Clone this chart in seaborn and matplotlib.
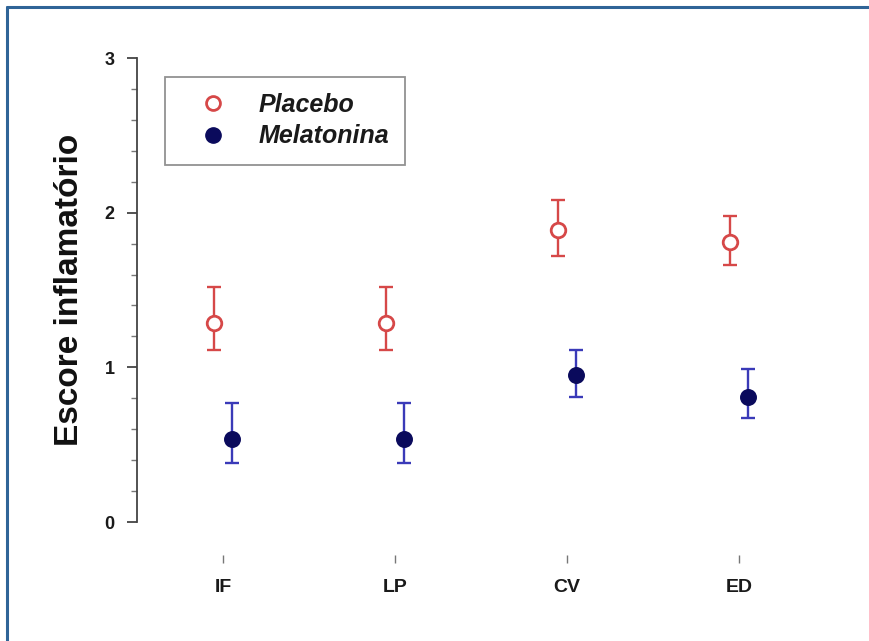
import numpy as np
import pandas as pd
import matplotlib
matplotlib.use("Agg")
import matplotlib.pyplot as plt
from matplotlib.lines import Line2D
from matplotlib.ticker import MultipleLocator
import seaborn as sns

# ==========================
# data
# ==========================
categories = ["IF", "LP", "CV", "ED"]
groups = ["Placebo", "Melatonina"]

placebo_mean = [1.29, 1.29, 1.89, 1.81]
placebo_low = [1.11, 1.11, 1.72, 1.66]
placebo_high = [1.52, 1.52, 2.08, 1.98]

melatonina_mean = [0.54, 0.54, 0.95, 0.81]
melatonina_low = [0.38, 0.38, 0.81, 0.67]
melatonina_high = [0.77, 0.77, 1.11, 0.99]

df = pd.DataFrame({
    "categoria": categories * 2,
    "grupo": [groups[0]] * 4 + [groups[1]] * 4,
    "media": placebo_mean + melatonina_mean,
    "low": placebo_low + melatonina_low,
    "high": placebo_high + melatonina_high,
})

sns.set_theme(style="ticks")
plt.rcParams["font.family"] = ["Liberation Sans", "DejaVu Sans"]

fig = plt.figure(figsize=(8.69, 6.41), dpi=100)
ax = fig.add_axes([0.1577, 0.1856, 0.7917, 0.7239])

offsets = {"Placebo": -0.055, "Melatonina": 0.055}
red = "#d64848"
bar_colors = {"Placebo": red, "Melatonina": "#3a3ab8"}
df["x"] = df["categoria"].map({c: i for i, c in enumerate(categories)}) + df["grupo"].map(offsets)

for g in groups:
    sub = df[df["grupo"] == g]
    ax.errorbar(
        sub["x"], sub["media"],
        yerr=[sub["media"] - sub["low"], sub["high"] - sub["media"]],
        fmt="none", ecolor=bar_colors[g], elinewidth=1.7,
        capsize=4.8, capthick=1.7, zorder=2
    )

sns.scatterplot(
    data=df[df["grupo"] == "Placebo"], x="x", y="media",
    marker="o", s=110, facecolor="white", edgecolor=red,
    linewidth=2.0, ax=ax, zorder=3, legend=False
)
sns.scatterplot(
    data=df[df["grupo"] == "Melatonina"], x="x", y="media",
    marker="o", s=125, color="#0a0a5c", edgecolor="#0a0a5c",
    linewidth=1, ax=ax, zorder=3, legend=False
)

ax.set_xlim(-0.5, 3.5)
ax.set_ylim(0, 3)
ax.set_xticks(range(len(categories)))
ax.set_xticklabels(categories)
ax.yaxis.set_major_locator(MultipleLocator(1))
ax.yaxis.set_minor_locator(MultipleLocator(0.2))

for s in ["top", "right"]:
    ax.spines[s].set_visible(False)
ax.spines["bottom"].set_position(("outward", 24))
ax.spines["bottom"].set_color("none")
ax.spines["left"].set_color("#444444")
ax.spines["left"].set_linewidth(1.3)

ax.tick_params(axis="y", which="major", length=7, width=1.3, color="#444444", pad=9)
ax.tick_params(axis="y", which="minor", length=4, width=1.0, color="#777777")
ax.tick_params(axis="x", length=6, width=1.0, color="#777777", pad=11)
for lbl in ax.get_yticklabels():
    lbl.set_fontweight("bold")
    lbl.set_fontsize(13)
    lbl.set_color("#1a1a1a")
for lbl in ax.get_xticklabels():
    lbl.set_fontweight("bold")
    lbl.set_fontsize(14)
    lbl.set_color("#1a1a1a")

ax.set_xlabel("")
ax.set_ylabel("Escore inflamatório", fontsize=24, fontweight="bold", color="#111111")
ax.yaxis.set_label_coords(-0.075, 0.5)

handles = [
    Line2D([], [], marker="o", linestyle="none", markersize=10,
           markerfacecolor="white", markeredgecolor=red, markeredgewidth=2.0),
    Line2D([], [], marker="o", linestyle="none", markersize=11,
           markerfacecolor="#0a0a5c", markeredgecolor="#0a0a5c"),
]
leg = ax.legend(
    handles, groups, loc="upper left", bbox_to_anchor=(0.04, 0.96),
    borderaxespad=0, frameon=True, fancybox=False, handlelength=2.6,
    handletextpad=0.5, borderpad=0.65, labelspacing=0.3,
    prop={"weight": "bold", "style": "italic", "size": 18}
)
leg.get_frame().set_edgecolor("#777777")
leg.get_frame().set_linewidth(1.3)
for t in leg.get_texts():
    t.set_color("#1a1a1a")

# blue frame (top and left edges only)
fig.add_artist(Line2D([0.008, 1.0], [0.989, 0.989], transform=fig.transFigure,
                      color="#2f6497", linewidth=2.2))
fig.add_artist(Line2D([0.008, 0.008], [0.0, 0.989], transform=fig.transFigure,
                      color="#2f6497", linewidth=2.2))

fig.savefig("out.png", dpi=100)
